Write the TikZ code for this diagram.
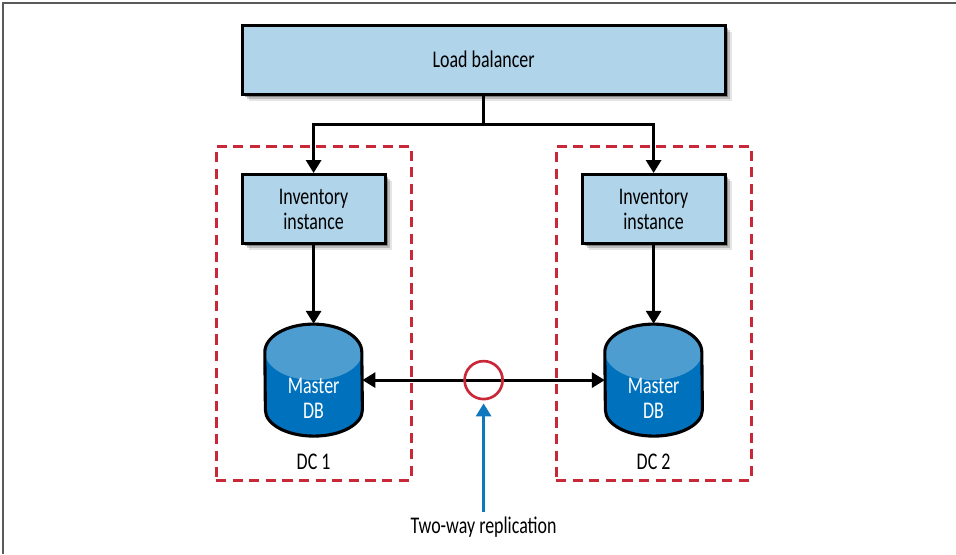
\documentclass[tikz,border=0pt]{standalone}
\usepackage{fontspec}
\setmainfont[FakeStretch=0.75]{Carlito}
\usepackage{color}
\usetikzlibrary{arrows.meta, shadows}
\definecolor{boxblue}{RGB}{176, 212, 234}
\definecolor{dblight}{RGB}{77, 157, 208}
\definecolor{dbdark}{RGB}{0, 113, 188}
\definecolor{dcred}{RGB}{200, 40, 56}
\definecolor{noteblue}{RGB}{15, 119, 189}
\definecolor{framegray}{RGB}{90, 90, 90}
\tikzstyle{softshadow} = [general shadow={fill=black,opacity=.1,shadow xshift=.17cm,shadow yshift=-.17cm},general shadow={fill=black,opacity=.18,shadow xshift=.12cm,shadow yshift=-.12cm},general shadow={fill=black,opacity=.3,shadow xshift=.07cm,shadow yshift=-.07cm}]
\tikzstyle{textfont} = [font=\fontsize{17}{18}\selectfont]
\tikzstyle{box} = [rectangle,draw=black,line width=2.2pt,fill=boxblue,align=center,softshadow,textfont]
\tikzstyle{db} = [rectangle,minimum width=2.425cm,minimum height=2.8cm,inner sep=0pt]
\tikzstyle{dblabel} = [align=center,text=white,textfont]
\tikzstyle{dc} = [rectangle,draw=dcred,line width=2.2pt,dash pattern=on 7.2pt off 4.6pt,minimum width=4.875cm,minimum height=8.35cm]
\tikzstyle{conn} = [draw=black,line width=2.1pt]
\newcommand{\dbdrum}[1]{%
	\fill[dbdark] ([yshift=.7cm]#1.west) arc[start angle=180,end angle=0,x radius=1.2125cm,y radius=.7cm] -- ([yshift=-.75cm]#1.east) arc[start angle=0,end angle=-180,x radius=1.2125cm,y radius=.65cm] -- cycle;
	\fill[dblight] ([yshift=.7cm]#1.center) ellipse (1.2125cm and .7cm);
	\draw[black,line width=2.2pt] ([yshift=.7cm]#1.west) arc[start angle=180,end angle=0,x radius=1.2125cm,y radius=.7cm] -- ([yshift=-.75cm]#1.east) arc[start angle=0,end angle=-180,x radius=1.2125cm,y radius=.65cm] -- cycle;
}

\begin{document}
\begin{tikzpicture}[>={Triangle[length=.325cm,width=.375cm]}]
	\useasboundingbox (0,0) rectangle (23.9,-13.85);
	% frame along the top and the left
	\coordinate (ftop) at (23.9,-.08);
	\coordinate (fcorner) at (.08,-.08);
	\coordinate (fleft) at (.08,-13.85);
	\draw[framegray,line width=1.4pt](ftop)--(fcorner)--(fleft);

	\node [box,minimum width=12.075cm,minimum height=1.725cm](lb) at (12.09,-1.49){Load balancer};
	\coordinate [below of=lb,yshift=-.6125cm](fork);
	\node [box,below of=lb,xshift=-4.25cm,yshift=-2.7375cm,minimum width=3.575cm,minimum height=1.725cm](inv1){Inventory\\instance};
	\node [box,below of=lb,xshift=4.25cm,yshift=-2.7375cm,minimum width=3.575cm,minimum height=1.725cm](inv2){Inventory\\instance};
	\node [dc,below of=inv1,yshift=-1.6cm](dc1){};
	\node [dc,below of=inv2,yshift=-1.6cm](dc2){};
	\node [db,below of=inv1,yshift=-3.275cm](db1){};
	\node [db,below of=inv2,yshift=-3.275cm](db2){};
	\dbdrum{db1}
	\dbdrum{db2}
	\node [dblabel,below of=db1,yshift=.55cm](db1label){Master\\DB};
	\node [dblabel,below of=db2,yshift=.55cm](db2label){Master\\DB};
	\node [below of=db1,yshift=-1.05cm,textfont](dc1label){DC 1};
	\node [below of=db2,yshift=-1.05cm,textfont](dc2label){DC 2};
	\node [circle,right of=db1,xshift=3.25cm,minimum size=.95cm,inner sep=0pt](repl){};
	\node [below of=repl,yshift=-2.68cm,textfont](repllabel){Two-way replication};

	\draw[conn](lb)--(fork);
	\draw[conn,->](fork)-|(inv1);
	\draw[conn,->](fork)-|(inv2);
	\draw[conn,->](inv1)--(db1);
	\draw[conn,->](inv2)--(db2);
	\draw[conn,<->](db1.east)--(db2.west);
	\draw[dcred,line width=1.9pt](repl) circle (.475cm);
	\draw[noteblue,line width=2.1pt,shorten >=.1cm,->](repllabel.north)--(repl.south);
\end{tikzpicture}
\end{document}
